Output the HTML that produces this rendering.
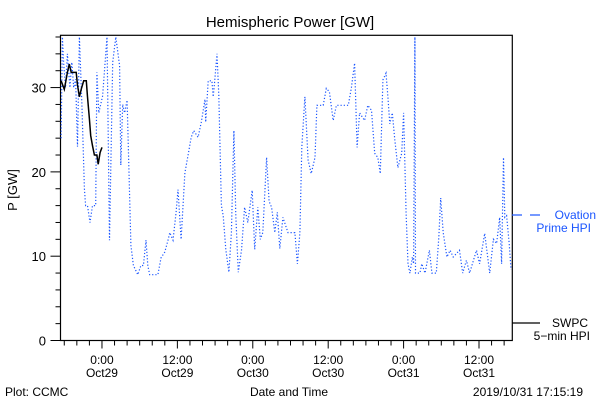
<!DOCTYPE html>
<html><head><meta charset="utf-8">
<style>
html,body{margin:0;padding:0;background:#fff;}
svg{display:block;font-family:"Liberation Sans",sans-serif;}
</style></head>
<body>
<svg id="chart" width="600" height="400" viewBox="0 0 600 400">
<text x="290" y="27" font-size="15" text-anchor="middle" fill="#000">Hemispheric Power [GW]</text>
<g id="axes"></g>
<g id="series"></g>
<text transform="translate(17,190) rotate(-90)" font-size="13" text-anchor="middle">P [GW]</text>
<text x="289" y="396" font-size="12" text-anchor="middle">Date and Time</text>
<text x="5" y="396" font-size="12">Plot: CCMC</text>
<text x="583" y="396" font-size="12" text-anchor="end">2019/10/31 17:15:19</text>
<g>
<line x1="512" y1="215" x2="522" y2="215" stroke="#1a55ff" stroke-width="1.2"/>
<line x1="530" y1="215" x2="540" y2="215" stroke="#1a55ff" stroke-width="1.2"/>
<text x="596" y="219" font-size="12" fill="#1a55ff" text-anchor="end">Ovation</text>
<text x="591" y="232" font-size="12" fill="#1a55ff" text-anchor="end">Prime HPI</text>
</g>
<g>
<line x1="512" y1="323" x2="540" y2="323" stroke="#000" stroke-width="1.2"/>
<text x="588" y="327" font-size="12" text-anchor="end">SWPC</text>
<text x="590" y="340" font-size="12" text-anchor="end">5−min HPI</text>
</g>
</svg>
<script>
const ovationTimes=[-6.5,-6.3,-6.1,-5.8,-5.5,-5.1,-4.8,-4.5,-4.2,-3.9,-3.6,-3.2,-2.8,-2.6,-2.3,-1.9,-1.5,-1.0,-0.8,-0.5,-0.2,0.1,0.4,0.8,1.2,1.7,2.2,2.8,3.0,3.3,3.6,4.0,4.6,5.0,5.7,6.2,6.6,7.0,7.3,7.6,8.9,9.4,10.0,10.5,10.8,11.3,11.8,12.1,12.6,13.2,13.7,14.2,14.6,15.3,15.8,16.4,16.5,16.9,17.5,17.7,17.9,18.3,18.6,19.0,19.3,19.7,20.2,20.6,21.0,21.3,21.7,22.2,22.7,23.2,23.9,24.3,24.8,25.2,25.6,26.2,26.6,27.0,27.5,27.9,28.3,28.8,29.6,30.7,31.1,31.5,31.8,32.3,32.8,33.3,33.9,34.2,35.2,35.7,36.2,36.8,37.3,38.4,39.2,39.7,40.2,40.6,41.0,41.8,42.3,42.9,43.4,43.9,44.3,44.7,45.2,45.5,45.8,46.2,46.6,47.1,47.7,48.0,48.4,48.7,49.0,49.4,49.6,49.8,49.9,50.6,50.9,51.4,52.1,52.5,53.2,53.6,53.9,54.3,54.9,55.4,55.9,56.9,57.4,58.0,58.5,59.6,60.1,60.9,61.7,62.3,62.8,63.3,63.6,63.9,64.1,64.4,64.8,65.1];
const ovationValues=[24,36,33,30,34,30,33,30,31,23,36,28,18,16,16,14,16,16,31.8,27,28,29,32,36,11.9,33,36,32.6,20.8,28,27,28.5,11.3,8.9,7.8,8.9,8.9,11.9,8.9,7.8,7.8,9.8,10.5,11.9,12.8,11.9,15.2,17.9,12,19.9,22,24.1,24.9,24.1,25.9,28.6,25.9,30.8,30.8,28.9,30.5,34,29.1,16,14.8,10.8,8.1,12.8,24.9,14.8,8.1,10.7,15.8,14,17.8,10.8,15.8,12,12.8,21.7,16.5,15.8,12.8,15.2,10.9,14.6,12.8,12.8,9.1,12.8,22.9,28.9,21.4,19.8,21.7,27.9,27.9,29.9,29.5,26.1,27.9,27.9,27.9,30,32.9,22.9,27,26.1,27.9,27.3,22.2,21.7,19.8,30.9,31.7,28.9,25.7,27,23.8,20.5,22.2,27,15.1,9.1,8,9.9,9.1,36,8,8,9.1,8,10.7,8,8,12.2,16.9,12.8,9.9,10.7,9.9,10.7,8,9.5,8,10.7,9.1,12.7,8,12,11.5,14.6,9.1,21.7,14.6,14.8,11.5,8.4];
const swpcTimes=[-6.5,-6.0,-5.7,-5.5,-5.2,-4.9,-4.1,-3.9,-3.6,-3.3,-2.9,-2.5,-2.3,-2.0,-1.8,-1.5,-1.2,-0.8,-0.6,-0.3,0.0];
const swpcValues=[30.8,29.8,31,31.8,32.8,31.8,31.8,30.3,28.9,29.8,30.8,30.8,28.9,26.3,24.3,23.1,22,22,20.9,22.3,22.9];
const yTickValues=[0,10,20,30];
const xTickHours=[0,12,24,36,48,60];
const xTickLine1=["0:00","12:00","0:00","12:00","0:00","12:00"];
const xTickLine2=["Oct29","Oct29","Oct30","Oct30","Oct31","Oct31"];

const L=60.5,R=512.3,T=35.3,B=340.5;
const xMin=-6.6,xMax=65.3,yMin=0,yMax=36.2;
const xs=h=>L+(h-xMin)/(xMax-xMin)*(R-L);
const ys=v=>B-(v-yMin)/(yMax-yMin)*(B-T);
const NS="http://www.w3.org/2000/svg";
const axes=document.getElementById('axes');
const series=document.getElementById('series');
function mk(tag,attrs,parent){const e=document.createElementNS(NS,tag);for(const k in attrs)e.setAttribute(k,attrs[k]);parent.appendChild(e);return e;}

const frame=mk('rect',{x:L,y:T,width:R-L,height:B-T,fill:'none',stroke:'#000','stroke-width':1.2},axes);



for(let v=0;v<=36;v+=2){
  const major=v%10===0;
  const t=mk('line',{x1:L-(major?10:5),x2:L,y1:ys(v),y2:ys(v),stroke:'#000','stroke-width':1},axes);
  
  
}
yTickValues.forEach(v=>{
  const t=mk('text',{x:46,y:ys(v)+5,'font-size':13,'text-anchor':'end'},axes);
  t.textContent=v;
  
  
});
for(let h=-6;h<=64;h+=2){
  const major=h%12===0;
  const t=mk('line',{x1:xs(h),x2:xs(h),y1:B,y2:B+(major?8:5),stroke:'#000','stroke-width':1},axes);
  
  
}
xTickHours.forEach((h,i)=>{
  const t1=mk('text',{x:xs(h),y:364,'font-size':12,'text-anchor':'middle'},axes);
  t1.textContent=xTickLine1[i];
  
  
  const t2=mk('text',{x:xs(h),y:377,'font-size':12,'text-anchor':'middle'},axes);
  t2.textContent=xTickLine2[i];
  
  
});

const clip=mk('clipPath',{id:'pc'},series);
mk('rect',{x:L,y:T,width:R-L,height:B-T},clip);

const op=ovationTimes.map((h,i)=>xs(h).toFixed(1)+','+ys(ovationValues[i]).toFixed(1)).join(' ');
const ov=mk('polyline',{points:op,fill:'none',stroke:'#1a55ff','stroke-width':1.2,'stroke-dasharray':'1.2 2','clip-path':'url(#pc)'},series);



const sp=swpcTimes.map((h,i)=>xs(h).toFixed(1)+','+ys(swpcValues[i]).toFixed(1)).join(' ');
const sw=mk('polyline',{points:sp,fill:'none',stroke:'#000','stroke-width':1.5,'clip-path':'url(#pc)'},series);


</script>
</body></html>
